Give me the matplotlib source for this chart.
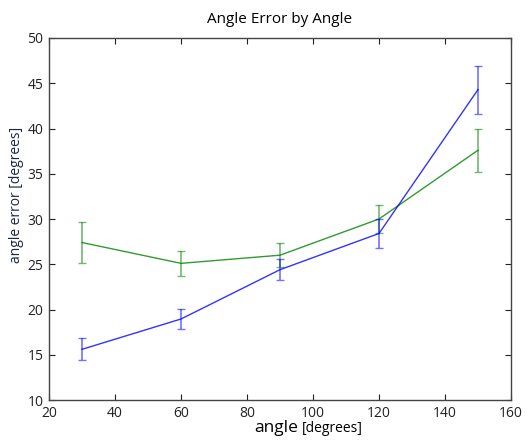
import matplotlib
matplotlib.use("Agg")
import matplotlib.pyplot as plt

plt.rcParams['font.family'] = ['Open Sans', 'DejaVu Sans']

angles = [30, 60, 90, 120, 150]

# blue series: mean error and std
blue_err = [15.6, 18.95, 24.4, 28.4, 44.3]
blue_std = [1.2, 1.1, 1.15, 1.6, 2.65]

# green series
green_err = [27.4, 25.1, 26.0, 30.0, 37.6]
green_std = [2.3, 1.4, 1.3, 1.6, 2.4]

fig = plt.figure(figsize=(5.28, 4.41), dpi=100)
ax = fig.add_axes([49 / 528, 1 - 400 / 441, 462 / 528, 362 / 441])

for vals, std, col in ((green_err, green_std, "#008000"), (blue_err, blue_std, "#0000ff")):
    ax.plot(angles, vals, color=col, lw=1.0, alpha=0.8)
    ax.errorbar(angles, vals, yerr=std, fmt="none", ecolor=col, elinewidth=1.2,
                capsize=3, capthick=1.0, alpha=0.55)

ax.set_xlim(20, 160)
ax.set_ylim(10, 50)
ax.set_xticks(range(20, 161, 20))
ax.set_yticks(range(10, 51, 5))
ax.tick_params(direction="in", length=4, width=0.8, top=True, right=True,
               labelsize=10, colors="#222222", pad=4)
for sp in ax.spines.values():
    sp.set_color("#444444")
    sp.set_linewidth(1.0)

ax.set_title("Angle Error by Angle", fontsize=11, pad=11)

# y label sits a bit above the axes centre in the original
fig.text(16.5 / 528, 1 - 195 / 441, "angle error [degrees]", fontsize=10,
         color="#1a2540", rotation=90, ha="center", va="center")

# x label: "angle" drawn larger than the unit part
fig.text(298 / 528, 9 / 441, "angle", fontsize=12.5, ha="right", va="baseline")
fig.text(302 / 528, 9 / 441, "[degrees]", fontsize=10, ha="left", va="baseline")

fig.savefig("out.png", dpi=100)
